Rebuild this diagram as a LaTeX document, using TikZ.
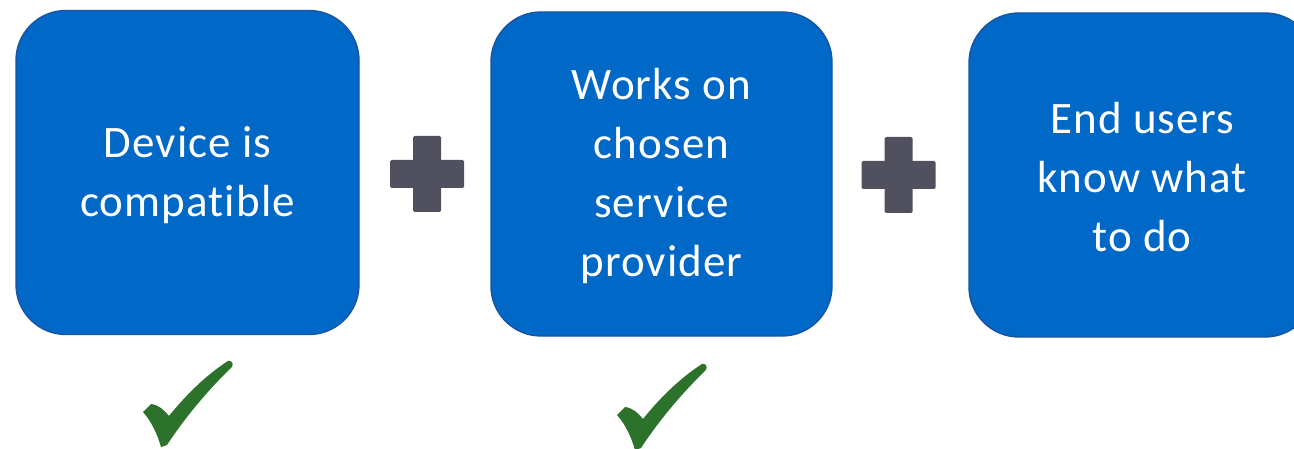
\documentclass[tikz,border=0pt]{standalone}
\usepackage{fontspec}
\setmainfont{Carlito}[Ligatures=NoCommon, LetterSpace=2.5]
\definecolor{boxblue}{RGB}{0,104,198}
\definecolor{boxedge}{RGB}{24,84,164}
\definecolor{plusgray}{RGB}{80,80,94}
\definecolor{checkgreen}{RGB}{44,114,42}
\tikzset{
  card/.style={draw=boxedge, line width=1.4pt, fill=boxblue, rounded corners=50pt,
    minimum height=324pt, inner sep=0pt},
  cardtext/.style={text=white, align=center, inner sep=0pt,
    font=\fontsize{45}{59}\selectfont},
  plussign/.pic={
    \fill[plusgray, rounded corners=1.5pt] (-37,-14) rectangle (37,14);
    \fill[plusgray, rounded corners=1.5pt] (-14,-38) rectangle (14,38);
  },
  tick/.pic={
    \fill[checkgreen] (143,412) -- (151,404)
      .. controls (159,405) and (164,410) .. (169,416)
      .. controls (185,396) and (206,375) .. (228,361)
      .. controls (231,360) and (234,363) .. (232,367)
      .. controls (210,388) and (186,416) .. (167,445)
      -- (161,447)
      .. controls (157,433) and (151,421) .. cycle;
  }
}
\begin{document}
\begin{tikzpicture}[x=1pt,y=-1pt]
  \clip (0,0) rectangle (1294,449);
  \fill[white] (0,0) rectangle (1294,449);
  \node[card, minimum width=343pt] (b1) at (187.5,172.5) {};
  \node[card, minimum width=341pt] (b2) at (661.5,174) {};
  \node[card, minimum width=346pt] (b3) at (1142,175) {};
  \node[cardtext] (t1) at ([yshift=-3pt]b1.center) {Device is\\compatible};
  \node[cardtext] (t2) at ([yshift=-2pt]b2.center) {Works on\\chosen\\service\\provider};
  \node[cardtext] (t3) at ([yshift=-2pt]b3.center) {End users\\know what\\to do};
  \pic at (427,174) {plussign};
  \pic at (898.5,175) {plussign};
  \pic at (0,0) {tick};
  \pic at (474,3) {tick};
\end{tikzpicture}
\end{document}
